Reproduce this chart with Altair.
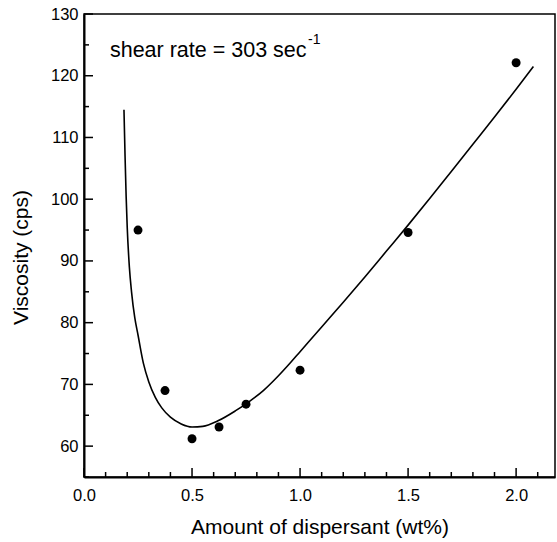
import altair as alt
import pandas as pd

# measured data points
amount = [0.25, 0.375, 0.5, 0.625, 0.75, 1.0, 1.5, 2.0]
viscosity = [95.0, 69.0, 61.2, 63.1, 66.8, 72.3, 94.6, 122.1]

# fitted curve
curve_x = [0.185, 0.19, 0.195, 0.20, 0.21, 0.22, 0.235, 0.25, 0.275, 0.30, 0.33, 0.36,
           0.40, 0.45, 0.50, 0.55, 0.62, 0.70, 0.76, 0.83, 0.90, 0.95, 1.0, 1.1, 1.2,
           1.3, 1.4, 1.5, 1.6, 1.7, 1.8, 1.9, 2.0, 2.08]
curve_y = [114.5, 107.0, 100.5, 95.5, 89.0, 85.0, 80.8, 78.0, 73.4, 70.4, 67.9, 66.2,
           64.7, 63.6, 63.1, 63.2, 64.1, 65.7, 67.1, 69.0, 71.4, 73.3, 75.3, 79.3, 83.3,
           87.4, 91.6, 95.8, 100.1, 104.5, 108.9, 113.3, 117.8, 121.5]

x_major = [0.0, 0.5, 1.0, 1.5, 2.0]
x_minor = [0.1, 0.2, 0.3, 0.4, 0.6, 0.7, 0.8, 0.9, 1.1, 1.2, 1.3, 1.4, 1.6, 1.7, 1.8, 1.9, 2.1]
y_major = [60, 70, 80, 90, 100, 110, 120, 130]
y_minor = [55, 65, 75, 85, 95, 105, 115, 125]

W, H = 471, 463
XD = [0, 2.18]
YD = [55, 130]
FONT = "Liberation Sans"

xs = alt.Scale(domain=XD, nice=False, zero=False)
ys = alt.Scale(domain=YD, nice=False, zero=False)

pts = pd.DataFrame({"x": amount, "y": viscosity})
cur = pd.DataFrame({"x": curve_x, "y": curve_y})

base_x = alt.X("x:Q", scale=xs, title="Amount of dispersant (wt%)",
               axis=alt.Axis(values=x_major, format=".1f", ticks=False, grid=False,
                             labelFlush=False, labelPadding=10, titlePadding=13))
base_y = alt.Y("y:Q", scale=ys, title="Viscosity (cps)",
               axis=alt.Axis(values=y_major, ticks=False, grid=False, labelFlush=False,
                             labelPadding=6, titlePadding=19, titleY=243))

line = alt.Chart(cur).mark_line(color="black", strokeWidth=1.6, interpolate="monotone").encode(
    x=base_x, y=base_y)
dots = alt.Chart(pts).mark_point(filled=True, color="black", size=80, opacity=1).encode(
    x="x:Q", y="y:Q")

def xticks(vals, L):
    return alt.Chart(pd.DataFrame({"x": vals})).mark_rule(color="black", strokeWidth=1.5).encode(
        x=alt.X("x:Q", scale=xs), y=alt.value(H), y2=alt.value(H - L))

def yticks(vals, L):
    return alt.Chart(pd.DataFrame({"y": vals})).mark_rule(color="black", strokeWidth=1.5).encode(
        y=alt.Y("y:Q", scale=ys), x=alt.value(0), x2=alt.value(L))

ann = pd.DataFrame({"x": [0.12], "y": [123.1], "t": ["shear rate = 303 sec"]})
sup = pd.DataFrame({"x": [1.037], "y": [125.1], "t": ["-1"]})
t1 = alt.Chart(ann).mark_text(align="left", baseline="alphabetic", font=FONT, fontSize=21.5,
                              color="black").encode(x=alt.X("x:Q", scale=xs), y=alt.Y("y:Q", scale=ys), text="t:N")
t2 = alt.Chart(sup).mark_text(align="left", baseline="alphabetic", font=FONT, fontSize=14,
                              color="black").encode(x=alt.X("x:Q", scale=xs), y=alt.Y("y:Q", scale=ys), text="t:N")

chart = alt.layer(
    line, dots,
    xticks(x_major, 9), xticks(x_minor, 5),
    yticks(y_major, 9), yticks(y_minor, 5),
    t1, t2,
).properties(
    width=W, height=H,
    padding={"left": 84, "top": 14, "right": 2, "bottom": 65},
    autosize=alt.AutoSizeParams(type="none"),
    background="white",
).configure_view(
    stroke="black", strokeWidth=1.5
).configure_axis(
    domainColor="black", domainWidth=2, labelColor="black", titleColor="black",
    labelFont=FONT, titleFont=FONT, labelFontSize=16.5, titleFontSize=21,
    titleFontWeight="normal"
)

chart.save("out.html", embed_options={"renderer": "svg", "actions": False})
